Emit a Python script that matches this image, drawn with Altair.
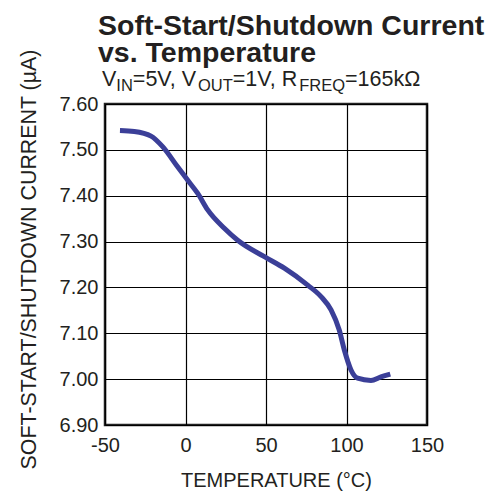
import altair as alt
import pandas as pd

# Data
temperature = [-40.7, -31.8, -21.4, -14.2, -4.9, 1.3, 7.6, 13.8, 24.1, 32.4, 49.0,
               61.4, 75.9, 84.2, 90.4, 95.5, 98.7, 102.8, 106.9, 115.2, 121.4, 127.2]
current = [7.542, 7.540, 7.530, 7.507, 7.463, 7.434, 7.405, 7.369, 7.329, 7.303, 7.267,
           7.242, 7.205, 7.180, 7.151, 7.107, 7.063, 7.020, 7.002, 6.997, 7.005, 7.011]

x_ticks = [-50, 0, 50, 100, 150]
y_ticks = [6.9, 7.0, 7.1, 7.2, 7.3, 7.4, 7.5, 7.6]

title_lines = ["Soft-Start/Shutdown Current", "vs. Temperature"]
# subtitle pieces: (text, is_subscript)
sub_pieces = [("V", False), ("IN", True), ("=5V, V", False), ("OUT", True),
              ("=1V, R", False), ("FREQ", True), ("=165k\u03a9", False)]

FONT = "Liberation Sans"
TXT = "#231f20"

df = pd.DataFrame({"t": temperature, "i": current})

line = alt.Chart(df).mark_line(color="#3b3f98", strokeWidth=5, interpolate="monotone").encode(
    x=alt.X("t:Q", scale=alt.Scale(domain=[-50, 150], nice=False),
            axis=alt.Axis(values=x_ticks, title="TEMPERATURE (\u00b0C)", grid=True,
                          labelExpr="'' + datum.value",
                          gridColor="#000", gridWidth=1.2, gridOpacity=1,
                          ticks=False, domain=False, labelFontSize=20, labelFont=FONT,
                          labelColor=TXT, labelPadding=10, labelFlush=False,
                          titleFont=FONT, titleFontSize=20, titleFontWeight="normal",
                          titleColor=TXT, titleX=171, titleY=61, titleAlign="center",
                          titleBaseline="alphabetic")),
    y=alt.Y("i:Q", scale=alt.Scale(domain=[6.9, 7.6], nice=False, zero=False),
            axis=alt.Axis(values=y_ticks, format=".2f", title="SOFT-START/SHUTDOWN CURRENT (\u00b5A)",
                          grid=True, gridColor="#000", gridWidth=1.2, gridOpacity=1,
                          ticks=False, domain=False, labelFontSize=20, labelFont=FONT,
                          labelColor=TXT, labelPadding=7, labelFlush=False,
                          titleFont=FONT, titleFontSize=21.4, titleFontWeight="normal",
                          titleColor=TXT, titleAngle=-90, titleX=-70, titleY=155,
                          titleAlign="center", titleBaseline="alphabetic")),
)

layers = [line]

# title lines
for txt, yy in zip(title_lines, [-69, -42]):
    layers.append(
        alt.Chart(pd.DataFrame({"s": [txt]})).mark_text(
            font=FONT, fontSize=28.5, fontWeight="bold", color=TXT, align="left",
            baseline="alphabetic").encode(text="s:N", x=alt.value(-7), y=alt.value(yy))
    )

# subtitle with subscripts
M, S = 21.5, 16.5
widths = {"V": 0.667, "IN": 1.0, "=5V, V": 3.03, "OUT": 2.111, "=1V, R": 3.085,
          "FREQ": 2.778, "=165k\u03a9": 3.52}
xpos = -3.0
for txt, is_sub in sub_pieces:
    size = S if is_sub else M
    layers.append(
        alt.Chart(pd.DataFrame({"s": [txt]})).mark_text(
            font=FONT, fontSize=size, color=TXT, align="left",
            baseline="alphabetic").encode(text="s:N", x=alt.value(xpos),
                                          y=alt.value(-18 + (5 if is_sub else 0)))
    )
    xpos += widths[txt] * size

chart = alt.layer(*layers).properties(
    width=322, height=321,
    autosize=alt.AutoSizeParams(type="none"),
    padding={"left": 97, "top": 96, "right": 60, "bottom": 66},
).configure_view(stroke="#222", strokeWidth=2.5)

chart.save("out.html", embed_options={"renderer": "svg", "actions": False})
